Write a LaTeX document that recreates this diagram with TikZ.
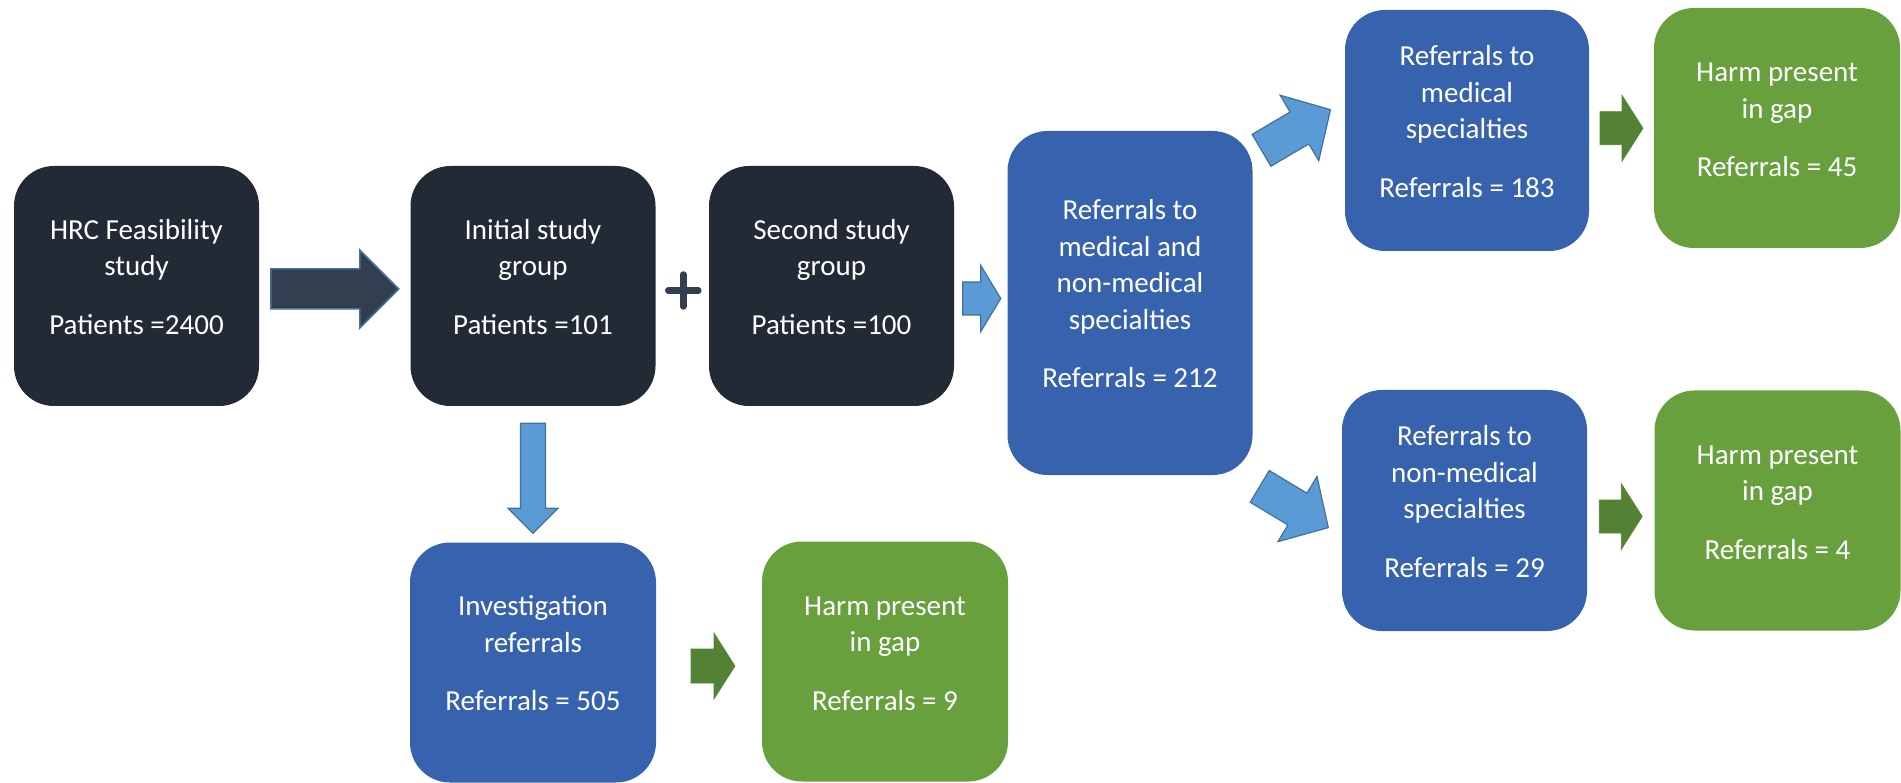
\documentclass[tikz,border=0pt]{standalone}
\usepackage{fontspec}
\setmainfont{Carlito}
\usetikzlibrary{calc}
\definecolor{darkbox}{HTML}{222A35}
\definecolor{darkarrow}{HTML}{333F50}
\definecolor{arrowedge}{HTML}{41719C}
\definecolor{lightblue}{HTML}{5B9BD5}
\definecolor{bluebox}{HTML}{3762AE}
\definecolor{greenbox}{HTML}{68A03E}
\definecolor{greenarrow}{HTML}{548235}
\newcommand{\blockarrow}[7]{%
  \draw[#1,shift={(#2)},rotate=#3] (-#4/2,-#5/2) -- ({#4/2-#7},-#5/2) -- ({#4/2-#7},-#6/2)
    -- (#4/2,0) -- ({#4/2-#7},#6/2) -- ({#4/2-#7},#5/2) -- (-#4/2,#5/2) -- cycle;}
\tikzset{
  box/.style={rounded corners=40pt, minimum width=245pt, minimum height=240pt, inner sep=0pt, draw=none},
  darkbx/.style={box, fill=darkbox},
  bluebx/.style={box, fill=bluebox},
  greenbx/.style={box, fill=greenbox},
  txt/.style={text=white, align=center, font=\fontsize{29}{36.5}\selectfont, inner sep=0pt},
  darkarr/.style={fill=darkarrow, draw=arrowedge, line width=1.5pt, line join=miter},
  bluearr/.style={fill=lightblue, draw=arrowedge, line width=1.2pt, line join=miter},
  greenarr/.style={fill=greenarrow, draw=greenarrow, line width=0.6pt, line join=miter},
  plusbar/.style={draw=darkarrow, line width=6.5pt, line cap=round},
}
\begin{document}
\begin{tikzpicture}[x=1pt,y=-1pt]
\useasboundingbox (0,0) rectangle (1901,783);
% boxes
\node[darkbx] (hrc) at (136.5,286) {};
\node[darkbx] (init) at (533,286) {};
\node[darkbx] (second) at (831.5,286) {};
\node[bluebx, minimum height=344pt] (mednon) at (1130,303) {};
\node[bluebx, minimum width=244pt, minimum height=241pt] (med) at (1467,130.5) {};
\node[greenbx, minimum width=246pt] (h45) at (1777,128) {};
\node[bluebx, minimum height=241pt] (nonmed) at (1464.5,510.5) {};
\node[greenbx, minimum width=246pt] (h4) at (1777.5,510.5) {};
\node[bluebx, minimum width=246pt] (inv) at (533,662.5) {};
\node[greenbx, minimum width=246pt] (h9) at (885,661.5) {};
% texts
\node[txt] (hrct) at ($(hrc.center)+(0,-9)$) {HRC Feasibility\\study\\[22pt]Patients =2400};
\node[txt] (initt) at ($(init.center)+(0,-9)$) {Initial study\\group\\[22pt]Patients =101};
\node[txt] (secondt) at ($(second.center)+(0,-9)$) {Second study\\group\\[22pt]Patients =100};
\node[txt] (mednont) at ($(mednon.center)+(0,-9)$) {Referrals to\\medical and\\non-medical\\specialties\\[22pt]Referrals = 212};
\node[txt] (medt) at ($(med.center)+(0,-9)$) {Referrals to\\medical\\specialties\\[22pt]Referrals = 183};
\node[txt] (h45t) at ($(h45.center)+(0,-8)$) {Harm present\\in gap\\[22pt]Referrals = 45};
\node[txt] (nonmedt) at ($(nonmed.center)+(0,-9)$) {Referrals to\\non-medical\\specialties\\[22pt]Referrals = 29};
\node[txt] (h4t) at ($(h4.center)+(0,-8)$) {Harm present\\in gap\\[22pt]Referrals = 4};
\node[txt] (invt) at ($(inv.center)+(0,-9)$) {Investigation\\referrals\\[22pt]Referrals = 505};
\node[txt] (h9t) at ($(h9.center)+(0,-8)$) {Harm present\\in gap\\[22pt]Referrals = 9};
% plus sign
\coordinate (plus) at ($(init.east)!0.5!(second.west)+(1,4.5)$);
\draw[plusbar] ($(plus)+(-15,0)$) -- ($(plus)+(15,0)$) ($(plus)+(0,-16)$) -- ($(plus)+(0,16)$);
% block arrows
\coordinate (a1) at ($(hrc.east)!0.5!(init.west)+(0,3)$);
\blockarrow{darkarr}{a1}{0}{128}{40}{78}{39}
\coordinate (a2) at ($(second.east)!0.5!(mednon.west)+(1,4)$);
\blockarrow{bluearr}{a2}{0}{38}{33}{66}{20}
\coordinate (a3) at ($(init.south)!0.5!(inv.north)+(0,4)$);
\blockarrow{bluearr}{a3}{-90}{110}{25}{50}{25}
\coordinate (a4) at ($(inv.east)!0.5!(h9.west)+(4,4)$);
\blockarrow{greenarr}{a4}{0}{44}{34}{66}{21}
\coordinate (d1) at (1296,130);
\blockarrow{bluearr}{d1}{30.5}{80}{37}{76}{36}
\coordinate (d2) at (1294,507);
\blockarrow{bluearr}{d2}{-31}{80}{37}{76}{36}
\coordinate (a5) at ($(med.east)!0.5!(h45.west)+(0,-1)$);
\blockarrow{greenarr}{a5}{0}{43}{33}{66}{21}
\coordinate (a6) at ($(nonmed.east)!0.5!(h4.west)+(0,6)$);
\blockarrow{greenarr}{a6}{0}{43}{33}{66}{21}
\end{tikzpicture}
\end{document}
